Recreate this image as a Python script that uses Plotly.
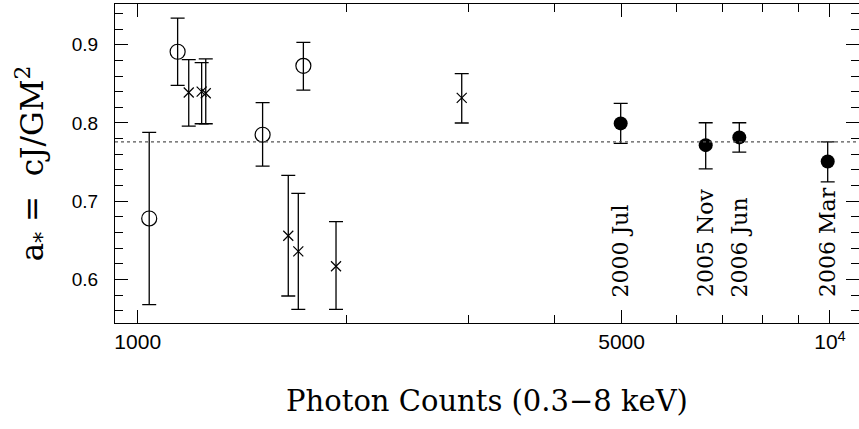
import math
import plotly.graph_objects as go

# ---- data ----
open_x = [1039, 1142, 1515, 1735]
open_y = [0.678, 0.891, 0.785, 0.873]
open_err_plus = [0.110, 0.043, 0.041, 0.030]
open_err_minus = [0.110, 0.043, 0.040, 0.031]

cross_x = [1185, 1237, 1254, 1650, 1706, 1934, 2938]
cross_y = [0.839, 0.840, 0.838, 0.656, 0.636, 0.617, 0.832]
cross_err_plus = [0.042, 0.037, 0.044, 0.077, 0.074, 0.057, 0.031]
cross_err_minus = [0.043, 0.041, 0.039, 0.077, 0.074, 0.055, 0.032]

filled_x = [4985, 6614, 7396, 9924]
filled_y = [0.7995, 0.7717, 0.7816, 0.7509]
filled_err_plus = [0.0255, 0.0286, 0.0187, 0.0251]
filled_err_minus = [0.0256, 0.0303, 0.0188, 0.0261]
filled_labels = ["2000 Jul", "2005 Nov", "2006 Jun", "2006 Mar"]
label_y = 0.5774

mean_spin = 0.776

x_tickvals = [1000, 5000, 10000]
x_ticktext = ["1000", "5000", "10<sup>4</sup>"]
x_minor_tickvals = [2000, 3000, 4000, 6000, 7000, 8000, 9000]

# ---- figure ----
SERIF = "DejaVu Serif"
SANS = "Liberation Sans"

def errbar(plus, minus):
    return dict(type="data", symmetric=False, array=plus, arrayminus=minus,
                color="black", thickness=1.3, width=7)

fig = go.Figure()

fig.add_trace(go.Scatter(
    x=open_x, y=open_y, mode="markers",
    marker=dict(symbol="circle-open", size=15, color="black",
                line=dict(width=1.2, color="black")),
    error_y=errbar(open_err_plus, open_err_minus), showlegend=False))

fig.add_trace(go.Scatter(
    x=cross_x, y=cross_y, mode="markers",
    marker=dict(symbol="x-thin", size=10, color="black",
                line=dict(width=1.2, color="black")),
    error_y=errbar(cross_err_plus, cross_err_minus), showlegend=False))

fig.add_trace(go.Scatter(
    x=filled_x, y=filled_y, mode="markers",
    marker=dict(symbol="circle", size=14, color="black"),
    error_y=errbar(filled_err_plus, filled_err_minus), showlegend=False))

fig.add_hline(y=mean_spin, line=dict(color="#555555", width=1.2, dash="dot"))

# annotations on a log axis take log10 positions
for xv, lab in zip(filled_x, filled_labels):
    fig.add_annotation(x=math.log10(xv), y=label_y, xref="x", yref="y",
                       text=lab, textangle=-90, showarrow=False,
                       xanchor="center", yanchor="bottom", xshift=0, yshift=-2,
                       font=dict(family=SERIF, size=22, color="black"))

fig.update_xaxes(
    type="log", range=[2.9672, 4.0419], automargin=False,
    tickmode="array", tickvals=x_tickvals, ticktext=x_ticktext,
    ticks="inside", ticklen=13, tickwidth=1.2, tickcolor="black",
    minor=dict(tickmode="array", tickvals=x_minor_tickvals, ticks="inside",
               ticklen=8, tickwidth=1.2, tickcolor="black", showgrid=False),
    showline=True, linecolor="black", linewidth=1.3, mirror="allticks",
    showgrid=False, zeroline=False,
    tickfont=dict(family=SANS, size=21, color="black"),
    title=dict(text="Photon Counts (0.3\u22128 keV)", standoff=38,
               font=dict(family=SERIF, size=29, color="black")))

fig.update_yaxes(
    range=[0.5445, 0.952], tick0=0, dtick=0.1, tickformat=".1f",
    automargin=False,
    ticks="inside", ticklen=13, tickwidth=1.2, tickcolor="black",
    minor=dict(dtick=0.02, ticks="inside", ticklen=8, tickwidth=1.2,
               tickcolor="black", showgrid=False),
    showline=True, linecolor="black", linewidth=1.3, mirror="allticks",
    showgrid=False, zeroline=False,
    tickfont=dict(family=SANS, size=19, color="black"),
    ticklabelstandoff=12,
    title=dict(text="a<sub>*</sub> =\u00a0 cJ/GM<sup>2</sup>", standoff=18,
               font=dict(family=SERIF, size=31, color="black")))

fig.update_layout(
    width=859, height=429,
    margin=dict(l=115, r=0, t=4, b=106),
    paper_bgcolor="white", plot_bgcolor="white",
    showlegend=False)

fig.write_html("out.html",
               config={"displayModeBar": False},
               post_script="document.body.style.margin='0';"
                           "document.body.style.overflow='hidden';")
